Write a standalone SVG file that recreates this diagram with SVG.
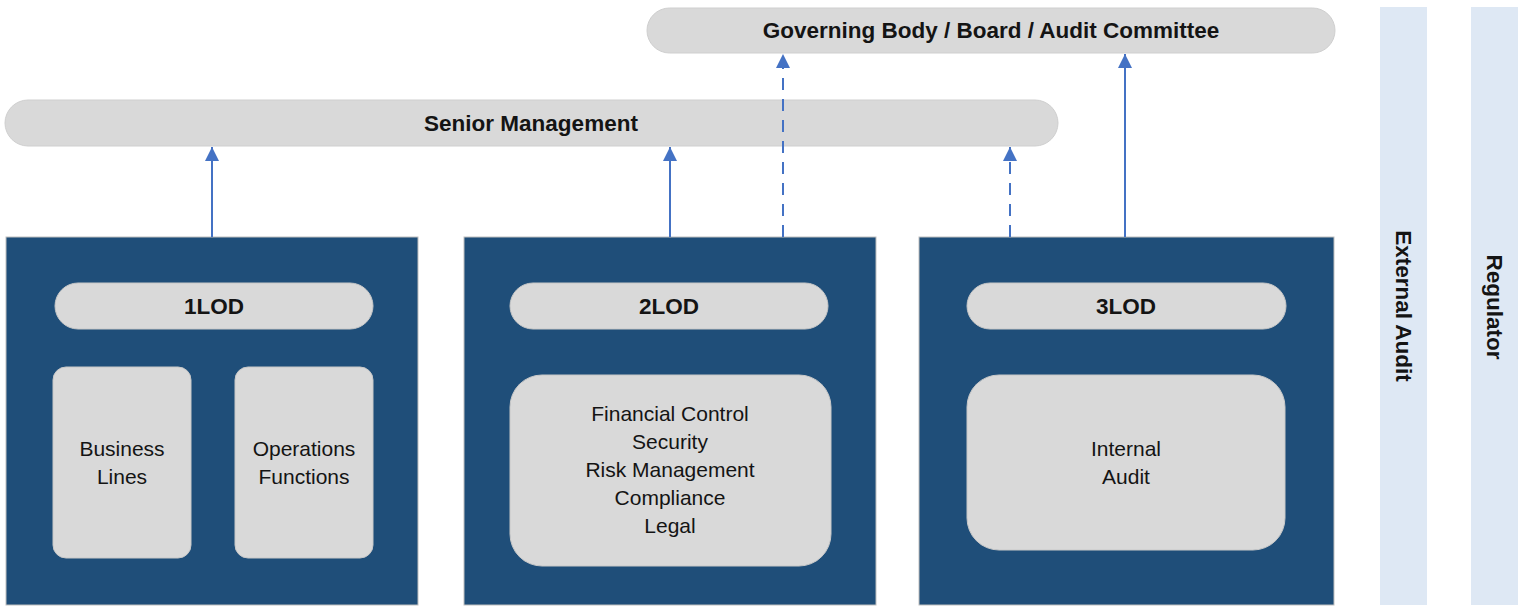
<svg xmlns="http://www.w3.org/2000/svg" width="1524" height="609" viewBox="0 0 1524 609">
  <style>
    .bar { fill: #D9D9D9; stroke: #CFCFCF; stroke-width: 1; }
    .lod { fill: #1F4E79; stroke: #BFBFBF; stroke-width: 1; }
    .pill { fill: #D9D9D9; stroke: #C8C8C8; stroke-width: 1; }
    .side { fill: #DEE8F4; }
    .t { font-family: "Liberation Sans", Arial, sans-serif; font-size: 21px; fill: #141414; text-anchor: middle; }
    .b { font-weight: bold; font-size: 22.5px; }
    .link { stroke: #4472C4; stroke-width: 2; fill: none; marker-end: url(#arrow); }
    .dash { stroke-dasharray: 12 9; }
  </style>
  <defs>
    <marker id="arrow" markerWidth="14" markerHeight="14" refX="14" refY="7" orient="auto" markerUnits="userSpaceOnUse" viewBox="0 0 14 14">
      <path d="M0,0 L14,7 L0,14 Z" fill="#4472C4"/>
    </marker>
  </defs>

  <!-- External parties -->
  <g id="external-audit">
    <rect class="side" x="1380" y="7" width="47" height="598"/>
    <text class="t b" transform="translate(1396 306) rotate(90)">External Audit</text>
  </g>
  <g id="regulator">
    <rect class="side" x="1471" y="7" width="47" height="598"/>
    <text class="t b" transform="translate(1487 307) rotate(90)">Regulator</text>
  </g>

  <!-- Oversight bars -->
  <g id="governing-body">
    <rect class="bar" x="647" y="8" width="688" height="45" rx="22.5"/>
    <text class="t b" x="991" y="38">Governing Body / Board / Audit Committee</text>
  </g>
  <g id="senior-management">
    <rect class="bar" x="5" y="100" width="1053" height="46" rx="23"/>
    <text class="t b" x="531" y="131">Senior Management</text>
  </g>

  <!-- First line of defence -->
  <g id="lod1">
    <rect class="lod" x="6" y="237" width="412" height="368"/>
    <rect class="pill" x="55" y="283" width="318" height="46" rx="23"/>
    <text class="t b" x="214" y="314">1LOD</text>
    <rect class="pill" x="53" y="367" width="138" height="191" rx="13"/>
    <text class="t" x="122" y="456">Business</text>
    <text class="t" x="122" y="484">Lines</text>
    <rect class="pill" x="235" y="367" width="138" height="191" rx="13"/>
    <text class="t" x="304" y="456">Operations</text>
    <text class="t" x="304" y="484">Functions</text>
  </g>

  <!-- Second line of defence -->
  <g id="lod2">
    <rect class="lod" x="464" y="237" width="412" height="368"/>
    <rect class="pill" x="510" y="283" width="318" height="46" rx="23"/>
    <text class="t b" x="669" y="314">2LOD</text>
    <rect class="pill" x="510" y="375" width="321" height="191" rx="32"/>
    <text class="t" x="670" y="421">Financial Control</text>
    <text class="t" x="670" y="449">Security</text>
    <text class="t" x="670" y="477">Risk Management</text>
    <text class="t" x="670" y="505">Compliance</text>
    <text class="t" x="670" y="533">Legal</text>
  </g>

  <!-- Third line of defence -->
  <g id="lod3">
    <rect class="lod" x="919" y="237" width="415" height="368"/>
    <rect class="pill" x="967" y="283" width="319" height="46" rx="23"/>
    <text class="t b" x="1126" y="314">3LOD</text>
    <rect class="pill" x="967" y="375" width="318" height="175" rx="32"/>
    <text class="t" x="1126" y="456">Internal</text>
    <text class="t" x="1126" y="484">Audit</text>
  </g>

  <!-- Reporting lines -->
  <g id="connectors">
    <line class="link" x1="212" y1="237" x2="212" y2="147"/>
    <line class="link" x1="670" y1="237" x2="670" y2="147"/>
    <line class="link dash" x1="1010" y1="237" x2="1010" y2="147"/>
    <line class="link dash" x1="783" y1="237" x2="783" y2="54"/>
    <line class="link" x1="1125" y1="237" x2="1125" y2="54"/>
  </g>
</svg>
